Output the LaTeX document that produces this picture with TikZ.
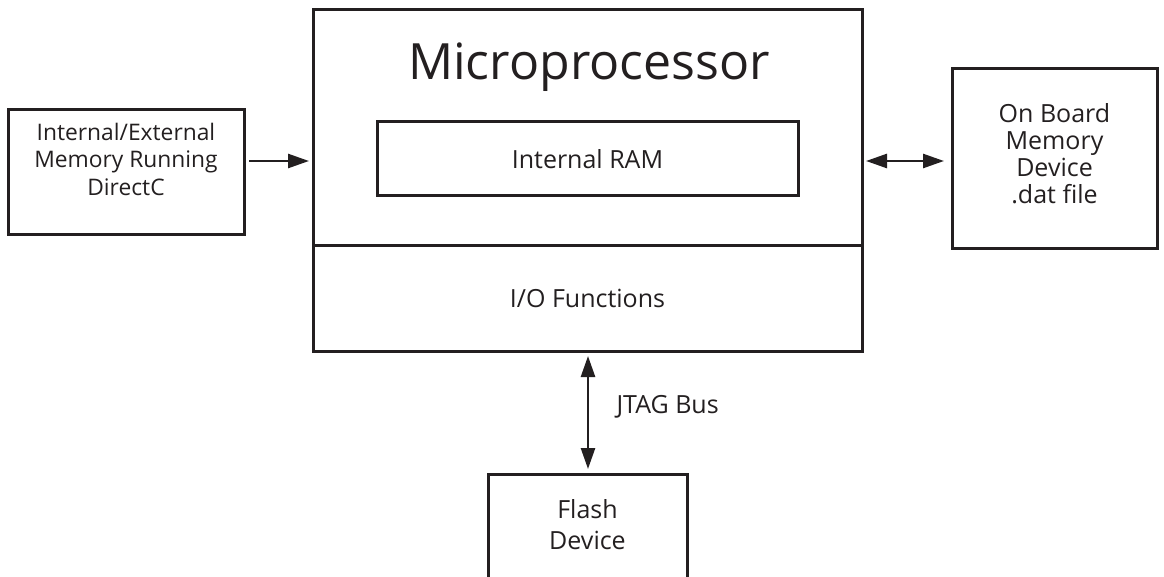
\documentclass[tikz,border=0pt]{standalone}
\usepackage{fontspec}
\setmainfont{Open Sans}
\usetikzlibrary{arrows.meta}
\definecolor{ink}{HTML}{231F20}
\begin{document}
\begin{tikzpicture}[x=1pt,y=-1pt,
  box/.style={draw=ink,line width=3pt,inner sep=0pt},
  lbl/.style={font=\fontsize{25}{27}\selectfont,align=center,text=ink},
  conn/.style={line width=2.6pt,draw=ink,-{Triangle[length=21pt,width=14pt]}},
  biconn/.style={line width=2.6pt,draw=ink,{Triangle[length=21pt,width=14pt]}-{Triangle[length=21pt,width=14pt]}}]
\useasboundingbox (0,0) rectangle (1164,577);
% micro
\node[box,minimum width=549pt,minimum height=341pt] (micro) at (587.5,180.5) {};
\coordinate (dl) at (313,246);
\coordinate (dr) at (862,246);
\draw[line width=3pt,ink] (dl) -- (dr);
\node[font=\fontsize{50}{56}\selectfont,text=ink] (mtitle) at (589,67) {Microprocessor};
\node[box,minimum width=421pt,minimum height=74pt] (ram) at (587.5,159) {};
\node[lbl] (ramt) at (ram.center) {Internal RAM};
\node[lbl] (io) at (587.5,298) {I/O Functions};
% left
\node[box,minimum width=236pt,minimum height=125pt] (left) at (126,172.5) {};
\node[lbl,font=\fontsize{22.8}{27.5}\selectfont] (leftt) at (126,159) {Internal/External\\Memory Running\\DirectC};
% right
\node[box,minimum width=205pt,minimum height=180pt] (right) at (1054.5,159) {};
\node[lbl,font=\fontsize{25}{27}\selectfont] (rightt) at (1054.5,154) {On Board\\Memory\\Device\\.dat file};
% flash
\coordinate (fsw) at (488,590);
\coordinate (fnw) at (488,474);
\coordinate (fne) at (687,474);
\coordinate (fse) at (687,590);
\draw[line width=3pt,ink] (fsw) -- (fnw) -- (fne) -- (fse);
\node[lbl,font=\fontsize{25}{31}\selectfont] (flash) at (587.5,525) {Flash\\Device};
% connectors
\coordinate (a1) at (249,161);
\coordinate (a2) at (309,161);
\draw[conn] (a1) -- (a2);
\coordinate (b1) at (866,161);
\coordinate (b2) at (944,161);
\draw[biconn] (b1) -- (b2);
\coordinate (c1) at (588,356);
\coordinate (c2) at (588,469);
\draw[biconn] (c1) -- (c2);
\node[lbl,anchor=west] (jtag) at (613,407) {JTAG Bus};
\end{tikzpicture}
\end{document}
